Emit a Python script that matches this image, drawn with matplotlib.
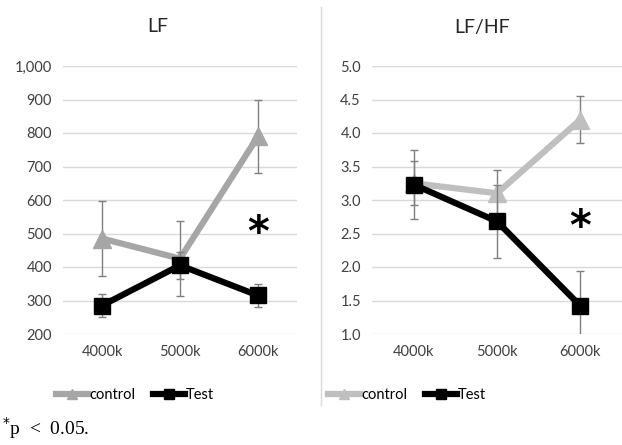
import matplotlib
matplotlib.use("Agg")
import matplotlib.pyplot as plt
from matplotlib.lines import Line2D

categories = ["4000k", "5000k", "6000k"]

# LF panel
lf_control = [485, 425, 790]
lf_control_err = [113, 112, 110]
lf_test = [285, 405, 315]
lf_test_err = [35, 40, 35]
lf_ticks = [200, 300, 400, 500, 600, 700, 800, 900, 1000]
lf_ticklabels = ["200", "300", "400", "500", "600", "700", "800", "900", "1,000"]

# LF/HF panel
ratio_control = [3.25, 3.1, 4.2]
ratio_control_err = [0.33, 0.35, 0.35]
ratio_test = [3.23, 2.68, 1.42]
ratio_test_err = [0.52, 0.55, 0.52]
ratio_ticks = [1.0, 1.5, 2.0, 2.5, 3.0, 3.5, 4.0, 4.5, 5.0]
ratio_ticklabels = ["%.1f" % t for t in ratio_ticks]

plt.rcParams['font.family'] = ['Lato', 'DejaVu Sans']

fig = plt.figure(figsize=(6.22, 4.45), dpi=100)
ax1 = fig.add_axes([63 / 622, 1 - 334 / 445, 234 / 622, 268 / 445])
ax2 = fig.add_axes([372 / 622, 1 - 334 / 445, 250 / 622, 268 / 445])


def draw(ax, ctrl, ctrl_err, test, test_err, ctrl_col, ylim, ticks, ticklabels, star_y, title, title_x):
    x = list(range(len(categories)))
    ax.errorbar(x, ctrl, yerr=ctrl_err, color=ctrl_col, lw=4.5, marker='^', ms=13,
                mfc=ctrl_col, mec=ctrl_col, ecolor='#7f7f7f', elinewidth=1, capsize=3,
                capthick=1, zorder=3)
    ax.errorbar(x, test, yerr=test_err, color='black', lw=4.5, marker='s', ms=11,
                ecolor='#7f7f7f', elinewidth=1, capsize=3, capthick=1, zorder=4)
    ax.set_xlim(-0.5, 2.5)
    ax.set_ylim(*ylim)
    ax.set_yticks(ticks)
    ax.set_yticklabels(ticklabels, fontsize=10.5, color='#404040')
    ax.set_xticks(x)
    ax.set_xticklabels(categories, fontsize=10.5, color='#404040')
    ax.tick_params(length=0, pad=8)
    ax.grid(axis='y', color='#d9d9d9', lw=1)
    ax.set_axisbelow(True)
    for s in ax.spines.values():
        s.set_visible(False)
    ax.text(2, star_y, "*", fontsize=30, fontweight='bold', ha='center', va='center',
            color='black', family=['DejaVu Sans'])
    fig.text(title_x, 1 - 27 / 445, title, fontsize=14, ha='center', va='center', color='#262626')


draw(ax1, lf_control, lf_control_err, lf_test, lf_test_err, '#a6a6a6',
     (200, 1000), lf_ticks, lf_ticklabels, 500, "LF", 158 / 622)
draw(ax2, ratio_control, ratio_control_err, ratio_test, ratio_test_err, '#bfbfbf',
     (1.0, 5.0), ratio_ticks, ratio_ticklabels, 2.58, "LF/HF", 482 / 622)

# legends
for col, cx in [('#a6a6a6', 135 / 622), ('#bfbfbf', 407 / 622)]:
    handles = [Line2D([], [], color=col, lw=4.5, marker='^', ms=7),
               Line2D([], [], color='black', lw=4.5, marker='s', ms=7)]
    fig.legend(handles, ["control", "Test"], loc='center', bbox_to_anchor=(cx, 1 - 395 / 445),
               ncol=2, frameon=False, fontsize=10.5, handlelength=2.2, handletextpad=0.1,
               columnspacing=1.2)

# separator
fig.add_artist(Line2D([321 / 622, 321 / 622], [1 - 7 / 445, 1 - 405 / 445],
                      transform=fig.transFigure, color='#d9d9d9', lw=1))

fig.text(0.003, 1 - 428 / 445, r"$^{*}$p  <  0.05.", fontsize=14, ha='left', va='center',
         family=['Liberation Serif'])

fig.savefig("out.png", dpi=100)
